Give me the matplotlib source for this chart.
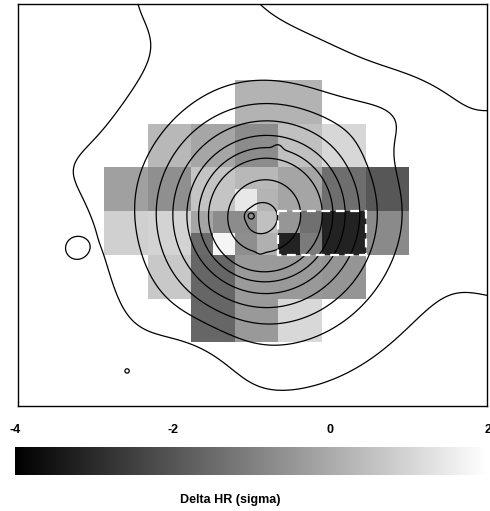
import numpy as np
import matplotlib
matplotlib.use("Agg")
import matplotlib.pyplot as plt
from matplotlib.patches import Rectangle

nan = np.nan

# ---------------- data ----------------
# Delta HR (sigma) on a coarse 6 x 7 grid (rows top -> bottom), NaN = no data
coarse_values = [
    [nan,   nan,   nan,   0.21,  0.21,  nan,   nan],
    [nan,   0.33, -0.10, -0.71,  0.52,  1.04,  nan],
    [-0.24, -0.64, 0.61,  0.40, -0.12, -1.41, -1.95],
    [0.89,  0.96, -0.50, -0.30, -1.50, -3.20, -0.75],
    [nan,   0.71, -1.60, -0.38, -0.40, -0.49,  nan],
    [nan,   nan,  -1.60, -0.40,  1.08,  nan,   nan],
]
# finer (half-size) bins in the core: coarse rows 2-3, columns 2-4
fine_block_values = [
    [0.61,  0.61,  0.33,  0.33, -0.12, -0.12],
    [0.61,  0.61,  1.46,  0.24, -0.12, -0.12],
    [-0.12, -0.70, -0.71, 0.52, -0.47, -1.36],
    [-1.51, 1.76, -0.66,  0.14, -3.20, -1.10],
]
fine_block_row0 = 4
fine_block_col0 = 4

vmin, vmax = -4, 2
cbar_ticks = [-4, -2, 0, 2]
cbar_ticklabels = ["-4", "-2", "0", "2"]
cbar_label = "Delta HR (sigma)"

# smooth X-ray surface-brightness model used for the contours
core_x = [3.76, 3.52]
core_y = [3.04, 3.24]
core_amp = [1.0, 0.6]
core_rc = [1.15, 0.57]
lobe_x = [1.55, -1.3, 10.0, 2.0, -1.5, 6.7]
lobe_y = [-2.4, 2.0, 2.8, 6.6, 4.5, 0.75]
lobe_amp = [0.05, 0.022, 0.09, -0.04, -0.03, 0.04]
lobe_sigx = [1.8, 0.9, 1.4, 0.8, 1.1, 0.9]
lobe_sigy = [1.2, 0.9, 2.0, 0.8, 1.1, 0.6]
# points where each contour level crosses (outermost -> innermost)
level_ref_x = [5.64, 3.46, 3.46, 3.46, 3.46, 3.46, 3.46, 4.50, 3.97]
level_ref_y = [-0.62, 6.02, 5.56, 5.19, 4.87, 4.60, 4.37, 3.20, 3.20]
# compact knots (small closed contours)
knot_x = [-0.67, 0.53, 3.99, 3.58, 3.37]
knot_y = [3.87, 6.66, 1.53, 3.96, 3.11]
knot_sig = [0.20, 0.06, 0.08, 0.07, 0.06]
knot_rad = [0.25, 0.05, 0.11, 0.09, 0.07]

# region with harder spectrum (dashed box), in bin units
box_x0, box_y0, box_w, box_h = 4, 3, 2, 1

# ---------------- build arrays ----------------
coarse = np.array(coarse_values, dtype=float)
fine = np.kron(coarse, np.ones((2, 2)))
fb = np.array(fine_block_values, dtype=float)
fine[fine_block_row0:fine_block_row0 + fb.shape[0],
     fine_block_col0:fine_block_col0 + fb.shape[1]] = fb
ny, nx = fine.shape
x_edges = np.linspace(0, coarse.shape[1], nx + 1)
y_edges = np.linspace(0, coarse.shape[0], ny + 1)


def smooth(x, y):
    f = np.zeros_like(np.asarray(x, dtype=float))
    for cx, cy, a, rc in zip(core_x, core_y, core_amp, core_rc):
        f = f + a / (1.0 + ((x - cx) ** 2 + (y - cy) ** 2) / rc ** 2)
    for cx, cy, a, sx, sy in zip(lobe_x, lobe_y, lobe_amp, lobe_sigx, lobe_sigy):
        f = f + a * np.exp(-(x - cx) ** 2 / (2 * sx ** 2) - (y - cy) ** 2 / (2 * sy ** 2))
    return f


levels = [float(smooth(np.array(px), np.array(py)))
          for px, py in zip(level_ref_x, level_ref_y)]
levels = sorted(levels)
levels.append(levels[-1] * levels[-1] / levels[-2])

xlim = (-1.97, 8.78)
ylim = (7.46, -1.74)
gx = np.linspace(xlim[0], xlim[1], 700)
gy = np.linspace(ylim[1], ylim[0], 600)
GX, GY = np.meshgrid(gx, gy)
field = smooth(GX, GY)
for kx, ky, ks, kr in zip(knot_x, knot_y, knot_sig, knot_rad):
    base = float(smooth(np.array(kx), np.array(ky)))
    above = [lv for lv in levels if lv > base]
    target = above[0]
    amp = (target - base) * np.exp(kr ** 2 / (2 * ks ** 2))
    field = field + amp * np.exp(-((GX - kx) ** 2 + (GY - ky) ** 2) / (2 * ks ** 2))

# ---------------- plot ----------------
plt.rcParams['font.family'] = ['Liberation Sans', 'DejaVu Sans']
fig = plt.figure(figsize=(4.9, 5.11), dpi=100)
fig.patch.set_facecolor('white')

ax = fig.add_axes([18 / 490, 1 - 406 / 511, 469 / 490, 402 / 511])
mesh = ax.pcolormesh(x_edges, y_edges, np.ma.masked_invalid(fine),
                     cmap='gray', vmin=vmin, vmax=vmax, shading='flat')
ax.contour(GX, GY, field, levels=levels, colors='black', linewidths=0.9)
ax.add_patch(Rectangle((box_x0, box_y0), box_w, box_h, fill=False,
                       edgecolor='white', linewidth=1.6,
                       linestyle=(0, (4, 2.5)), zorder=5))
ax.set_xlim(*xlim)
ax.set_ylim(*ylim)
ax.set_xticks([])
ax.set_yticks([])
for sp in ax.spines.values():
    sp.set_linewidth(1.0)
    sp.set_color('black')

cax = fig.add_axes([15 / 490, 1 - 475 / 511, 473 / 490, 28 / 511])
cb = fig.colorbar(mesh, cax=cax, orientation='horizontal', ticks=cbar_ticks)
cb.outline.set_visible(False)
cax.xaxis.set_ticks_position('top')
cax.tick_params(axis='x', length=0, pad=8)
cax.set_xticklabels(cbar_ticklabels, fontsize=9, fontweight='bold')
for lab in cax.get_xticklabels():
    lab.set_clip_on(False)

fig.text(230 / 490, 1 - 500 / 511, cbar_label, ha='center', va='center',
         fontsize=9, fontweight='bold')

fig.savefig('out.png', dpi=100, facecolor='white')
